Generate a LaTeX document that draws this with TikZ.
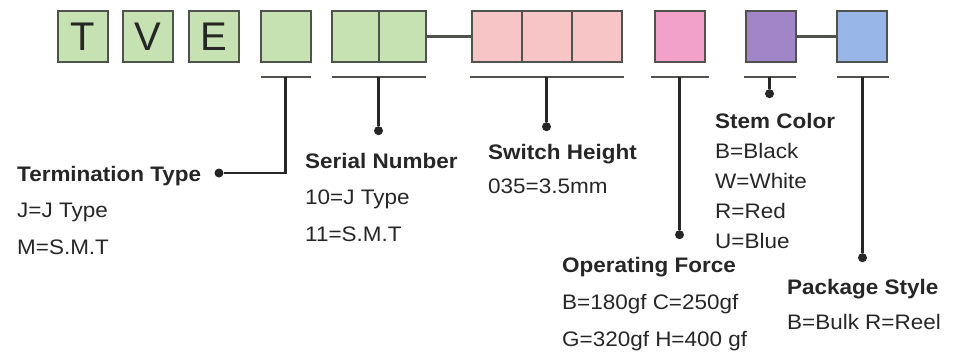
\documentclass[tikz,border=0pt]{standalone}
\usepackage{fontspec}
\setmainfont{Liberation Sans}
\newfontfamily\lblface{Liberation Sans}[FakeStretch=1.07]
\usepackage{tikz}
\usetikzlibrary{positioning, calc}
\definecolor{TVE_Green}{RGB}{198,225,178}
\definecolor{TVE_Rose}{RGB}{247,197,197}
\definecolor{TVE_Pink}{RGB}{242,162,202}
\definecolor{TVE_Purple}{RGB}{162,132,200}
\definecolor{TVE_Blue}{RGB}{152,182,232}
\definecolor{TVE_Edge}{RGB}{80,82,78}
\definecolor{TVE_Ink}{RGB}{38,38,38}
\newcommand{\lblfont}[1]{\lblface\fontsize{21}{#1}\selectfont}

\begin{document}
\begin{tikzpicture}[
    x=1pt, y=-1pt,
    cell/.style={rectangle, draw=TVE_Edge, line width=2pt, outer sep=0pt,
                 minimum width=50pt, minimum height=51pt, inner sep=0pt,
                 font=\fontsize{40}{40}\selectfont, text=TVE_Ink},
    bar/.style={line width=2.2pt, TVE_Edge},
    wire/.style={line width=2.2pt, TVE_Ink},
    dot/.style={circle, fill=TVE_Ink, minimum size=9pt, inner sep=0pt},
    lbl/.style={align=left, inner sep=0pt, anchor=base west, text=TVE_Ink}
]
\useasboundingbox (0,0) rectangle (953,360);

% Code boxes
\node[cell, fill=TVE_Green] (bt) at (82.5,36.5) {T};
\node[cell, fill=TVE_Green, right=15pt of bt] (bv) {V};
\node[cell, fill=TVE_Green, right=16pt of bv] (be) {E};
\node[cell, fill=TVE_Green, right=22pt of be] (bterm) {};
\node[cell, fill=TVE_Green, minimum width=47pt, right=21pt of bterm] (bser1) {};
\node[cell, fill=TVE_Green, minimum width=47pt, right=0pt of bser1] (bser2) {};
\node[cell, fill=TVE_Rose, right=46pt of bser2] (bh1) {};
\node[cell, fill=TVE_Rose, right=0pt of bh1] (bh2) {};
\node[cell, fill=TVE_Rose, right=0pt of bh2] (bh3) {};
\node[cell, fill=TVE_Pink, right=33pt of bh3] (bf) {};
\node[cell, fill=TVE_Purple, right=41pt of bf] (bstem) {};
\node[cell, fill=TVE_Blue, right=41pt of bstem] (bpack) {};

\draw[bar] (bser2) -- (bh1);
\draw[bar] (bstem) -- (bpack);

% Bars under the groups
\draw[bar] ([yshift=-15pt]bterm.south west) -- coordinate (tbar) ([yshift=-15pt]bterm.south east);
\draw[bar] ([yshift=-15pt]bser1.south west) -- coordinate (sbar) ([yshift=-15pt]bser2.south east);
\draw[bar] ([xshift=-2pt,yshift=-15pt]bh1.south west) -- coordinate (hbar) ([xshift=2pt,yshift=-15pt]bh3.south east);
\draw[bar] ([xshift=-4pt,yshift=-15pt]bf.south west) -- coordinate (fbar) ([xshift=4pt,yshift=-15pt]bf.south east);
\draw[bar] ([xshift=-2pt,yshift=-15pt]bstem.south west) -- coordinate (cbar) ([yshift=-15pt]bstem.south east);
\draw[bar] ([yshift=-15pt]bpack.south west) -- coordinate (pbar) ([xshift=2pt,yshift=-15pt]bpack.south east);

% Dots
\node[dot] (dterm) at (219,173) {};
\node[dot, below=49pt of sbar] (dser) {};
\node[dot, below=45pt of hbar] (dh) {};
\node[dot, below=153pt of fbar] (df) {};
\node[dot, below=12pt of cbar] (dstem) {};
\node[dot, below=176pt of pbar] (dpack) {};

% Wires
\draw[wire] (tbar) |- (dterm);
\draw[wire] (sbar) -- (dser);
\draw[wire] (hbar) -- (dh);
\draw[wire] (fbar) -- (df);
\draw[wire] (cbar) -- (dstem);
\draw[wire] (pbar) -- (dpack);

% Labels (anchored on the baseline of the last line)
\node[lbl, font=\lblfont{36.5}] (lterm) at (17,254) {\textbf{Termination Type}\\J=J Type\\M=S.M.T};
\node[lbl, font=\lblfont{36.5}] (lser) at (305,241) {\textbf{Serial Number}\\10=J Type\\11=S.M.T};
\node[lbl, font=\lblfont{34}] (lh) at (488,193) {\textbf{Switch Height}\\035=3.5mm};
\node[lbl, font=\lblfont{30}] (lstem) at (715,248) {\textbf{Stem Color}\\B=Black\\W=White\\R=Red\\U=Blue};
\node[lbl, font=\lblfont{37}] (lf) at (562,346) {\textbf{Operating Force}\\B=180gf C=250gf\\G=320gf H=400 gf};
\node[lbl, font=\lblfont{35}] (lpack) at (787,329) {\textbf{Package Style}\\B=Bulk R=Reel};

\end{tikzpicture}
\end{document}
